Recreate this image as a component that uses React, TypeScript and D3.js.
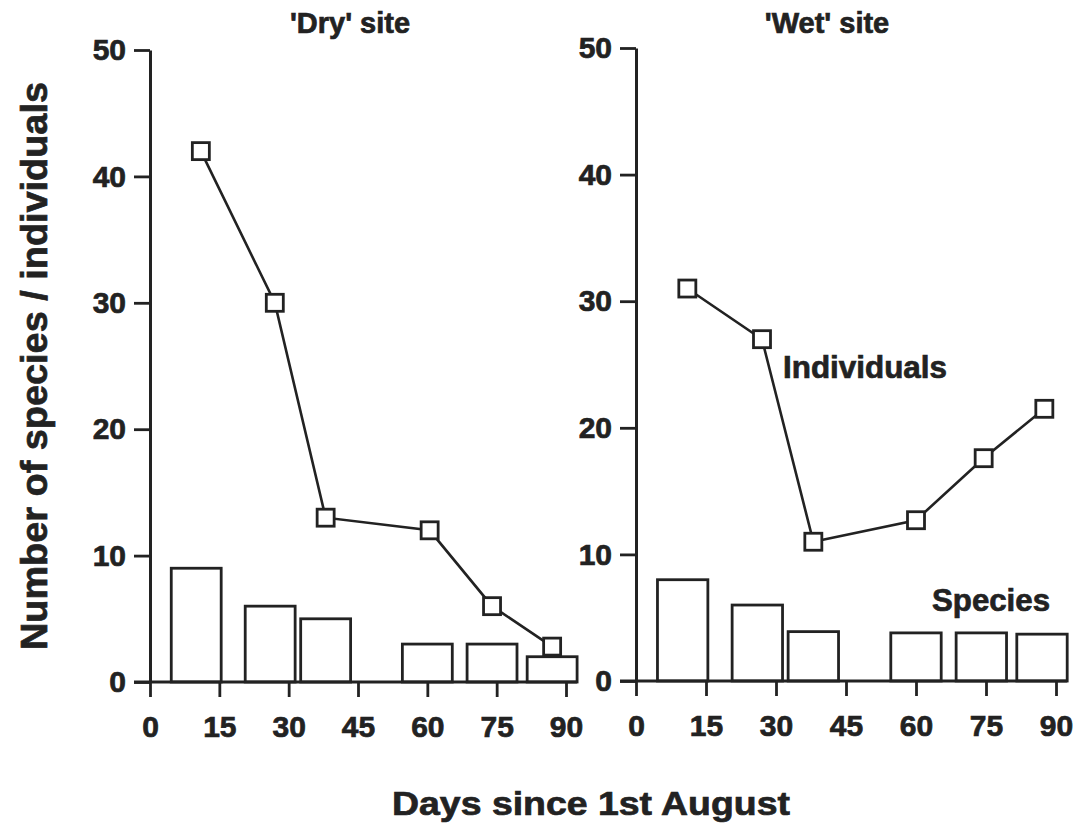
import React, { useEffect, useRef } from 'react';
import * as d3 from 'd3';

// tick values
const xTickValues = [0, 15, 30, 45, 60, 75, 90];
const yTickValues = [0, 10, 20, 30, 40, 50];

// 'Dry' site
const dryBarDays = [10, 26, 38, 60, 74, 87];
const drySpecies = [9, 6, 5, 3, 3, 2];
const dryPointDays = [11, 27, 38, 60.5, 74, 87];
const dryIndividuals = [42, 30, 13, 12, 6, 2.8];

// 'Wet' site
const wetBarDays = [10, 26, 38, 60, 74, 87];
const wetSpecies = [8, 6, 3.9, 3.8, 3.8, 3.7];
const wetPointDays = [11, 27, 38, 60, 74.5, 87.5];
const wetIndividuals = [31, 27, 11, 12.7, 17.6, 21.5];

const BAR_WIDTH_DAYS = 10.8;
const INK = '#222';
const FONT = '"Liberation Sans", Arial, Helvetica, sans-serif';

// heavy bold text, a little thicker than plain bold like the scan
const heavy = sel => sel
  .attr('fill', INK)
  .attr('stroke', INK)
  .attr('stroke-width', 0.7)
  .style('font-family', FONT)
  .style('font-weight', 'bold');

function drawPanel(svg, opts) {
  const { x0, x1, yBottom, yTop, title, titleX, barDays, species, pointDays, individuals } = opts;

  const x = d3.scaleLinear().domain([0, 90]).range([x0, x1]);
  const y = d3.scaleLinear().domain([0, 50]).range([yBottom, yTop]);

  const g = svg.append('g');

  // bars (species)
  g.selectAll('.bar')
    .data(barDays.map((d, i) => ({ day: d, value: species[i] })))
    .enter().append('rect')
    .attr('x', d => x(d.day - BAR_WIDTH_DAYS / 2))
    .attr('width', d => x(d.day + BAR_WIDTH_DAYS / 2) - x(d.day - BAR_WIDTH_DAYS / 2))
    .attr('y', d => y(d.value))
    .attr('height', d => y(0) - y(d.value))
    .attr('fill', '#fff')
    .attr('stroke', INK)
    .attr('stroke-width', 2.8);

  // x axis
  const xAxis = g.append('g')
    .attr('transform', `translate(0,${y(0)})`)
    .call(d3.axisBottom(x).tickValues(xTickValues).tickSize(15).tickSizeOuter(0).tickPadding(19));
  xAxis.select('.domain').remove();
  xAxis.selectAll('line').attr('stroke', INK).attr('stroke-width', 2.8);
  xAxis.selectAll('text').call(heavy).style('font-size', '30px');

  const lastBar = barDays[barDays.length - 1] + BAR_WIDTH_DAYS / 2;
  g.append('line')
    .attr('x1', x(0) - 16)
    .attr('x2', x(lastBar))
    .attr('y1', y(0))
    .attr('y2', y(0))
    .attr('stroke', INK)
    .attr('stroke-width', 3);

  // y axis
  const yAxis = g.append('g')
    .attr('transform', `translate(${x(0)},0)`)
    .call(d3.axisLeft(y).tickValues(yTickValues).tickSize(16).tickSizeOuter(0).tickPadding(8));
  yAxis.select('.domain').attr('stroke', INK).attr('stroke-width', 3);
  yAxis.selectAll('line').attr('stroke', INK).attr('stroke-width', 2.8);
  yAxis.selectAll('text').call(heavy).style('font-size', '30px');

  // individuals line
  const pts = pointDays.map((d, i) => [x(d), y(individuals[i])]);
  g.append('path')
    .attr('d', d3.line()(pts))
    .attr('fill', 'none')
    .attr('stroke', INK)
    .attr('stroke-width', 2.6);

  const s = 17;
  g.selectAll('.pt')
    .data(pts)
    .enter().append('rect')
    .attr('x', d => d[0] - s / 2)
    .attr('y', d => d[1] - s / 2)
    .attr('width', s)
    .attr('height', s)
    .attr('fill', '#fff')
    .attr('stroke', INK)
    .attr('stroke-width', 2.8);

  // panel title
  g.append('text')
    .attr('x', titleX)
    .attr('y', 33)
    .attr('text-anchor', 'middle')
    .call(heavy)
    .style('font-size', '29px')
    .text(title);

  return { x, y };
}

export default function App() {
  const svgRef = useRef(null);

  useEffect(() => {
    const svg = d3.select(svgRef.current);
    svg.selectAll('*').remove();

    drawPanel(svg, {
      x0: 150, x1: 566, yBottom: 682, yTop: 50,
      title: "'Dry' site", titleX: 350,
      barDays: dryBarDays, species: drySpecies,
      pointDays: dryPointDays, individuals: dryIndividuals,
    });

    drawPanel(svg, {
      x0: 636, x1: 1056, yBottom: 681, yTop: 48,
      title: "'Wet' site", titleX: 827,
      barDays: wetBarDays, species: wetSpecies,
      pointDays: wetPointDays, individuals: wetIndividuals,
    });

    // series labels
    svg.append('text')
      .attr('x', 783).attr('y', 378)
      .attr('textLength', 164)
      .attr('lengthAdjust', 'spacingAndGlyphs')
      .call(heavy)
      .style('font-size', '31px')
      .text('Individuals');

    svg.append('text')
      .attr('x', 932).attr('y', 611)
      .attr('textLength', 118)
      .attr('lengthAdjust', 'spacingAndGlyphs')
      .call(heavy)
      .style('font-size', '31px')
      .text('Species');

    // axis titles
    svg.append('text')
      .attr('transform', 'translate(47,366) rotate(-90)')
      .attr('text-anchor', 'middle')
      .attr('textLength', 568)
      .attr('lengthAdjust', 'spacingAndGlyphs')
      .call(heavy)
      .style('font-size', '37px')
      .text('Number of species / individuals');

    svg.append('text')
      .attr('x', 591).attr('y', 815)
      .attr('text-anchor', 'middle')
      .attr('textLength', 398)
      .attr('lengthAdjust', 'spacingAndGlyphs')
      .call(heavy)
      .style('font-size', '34px')
      .text('Days since 1st August');
  }, []);

  return (
    <svg
      ref={svgRef}
      width={1077}
      height={830}
      style={{ position: 'absolute', left: 0, top: 0, background: '#fff' }}
    />
  );
}
